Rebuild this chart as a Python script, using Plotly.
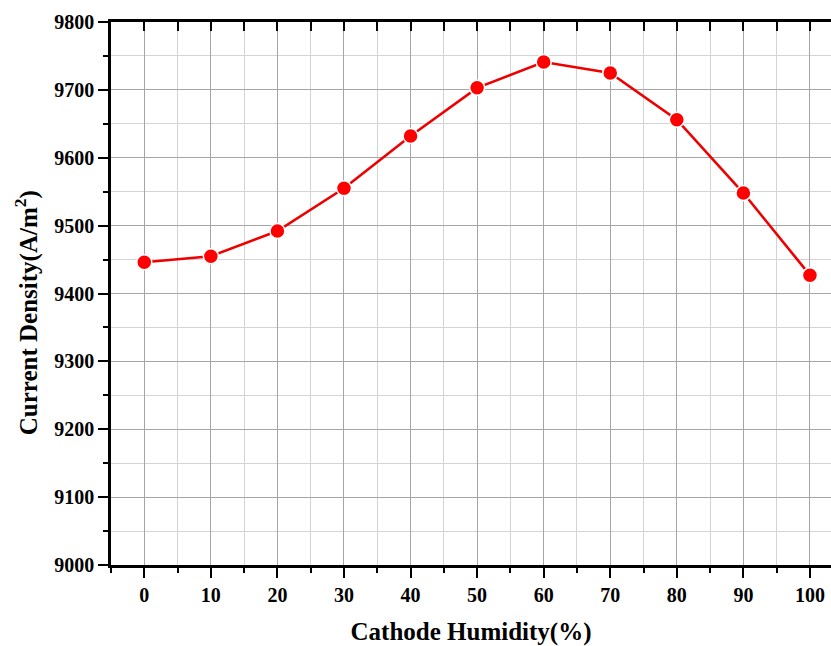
import plotly.graph_objects as go

# Cathode humidity sweep and resulting current density
humidity = [0, 10, 20, 30, 40, 50, 60, 70, 80, 90, 100]
current_density = [9446, 9455, 9492, 9555, 9632, 9703, 9741, 9725, 9656, 9548, 9427]

x_ticks = [0, 10, 20, 30, 40, 50, 60, 70, 80, 90, 100]
y_ticks = [9000, 9100, 9200, 9300, 9400, 9500, 9600, 9700, 9800]

FONT = "Liberation Serif"
X_RANGE = [-5, 103.16]
Y_RANGE = [9000, 9800]

fig = go.Figure()
fig.add_trace(go.Scatter(
    x=humidity, y=current_density,
    mode="lines+markers",
    line=dict(color="#ee0000", width=2.6),
    marker=dict(color="#ff0000", size=15, line=dict(color="white", width=1.5)),
    showlegend=False,
    cliponaxis=False,
))

tickfont = dict(family=FONT, size=20, color="black")
titlefont = dict(family=FONT, size=25, color="black")

fig.update_layout(
    width=831, height=646,
    margin=dict(l=111, r=0, t=22, b=81),
    paper_bgcolor="white", plot_bgcolor="white",
    xaxis=dict(
        range=X_RANGE, tickvals=x_ticks, ticktext=[f"<b>{v}</b>" for v in x_ticks],
        tickfont=tickfont,
        ticks="outside", ticklen=10, tickwidth=2, tickcolor="black",
        showline=True, linewidth=2.5, linecolor="black",
        showgrid=True, gridcolor="#a6a6a6", gridwidth=1.3,
        minor=dict(dtick=5, tick0=0, ticks="outside", ticklen=5, tickwidth=2,
                   tickcolor="black", showgrid=True, gridcolor="#d4d4d4", gridwidth=1.2),
        zeroline=False,
        title=dict(text="<b>Cathode Humidity(%)</b>", font=titlefont, standoff=18),
    ),
    xaxis2=dict(
        range=X_RANGE, overlaying="x", side="top", anchor="y",
        tick0=0, dtick=5, ticks="inside", ticklen=9, tickwidth=2, tickcolor="black",
        showticklabels=False, showline=True, linewidth=2.5, linecolor="black",
        showgrid=False, zeroline=False,
    ),
    yaxis=dict(
        range=Y_RANGE, tickvals=y_ticks, ticktext=[f"<b>{v}</b>" for v in y_ticks],
        tickfont=tickfont,
        ticks="outside", ticklen=10, tickwidth=2, tickcolor="black",
        showline=True, linewidth=2.5, linecolor="black",
        showgrid=True, gridcolor="#a6a6a6", gridwidth=1.3,
        minor=dict(dtick=50, tick0=9000, ticks="outside", ticklen=5, tickwidth=2,
                   tickcolor="black", showgrid=True, gridcolor="#d4d4d4", gridwidth=1.2),
        zeroline=False,
    ),
)

# vertical axis title, placed slightly below the plot centre
fig.add_annotation(
    text="<b>Current Density(A/m<sup>2</sup>)</b>", font=titlefont,
    textangle=-90, showarrow=False,
    xref="paper", yref="paper", x=-0.117, y=0.465,
    xanchor="center", yanchor="middle",
)

# invisible trace so the top axis is drawn
fig.add_trace(go.Scatter(x=[X_RANGE[0]], y=[Y_RANGE[0]], xaxis="x2", mode="markers",
                         marker=dict(opacity=0), showlegend=False, hoverinfo="skip"))

fig.write_html("out.html")
